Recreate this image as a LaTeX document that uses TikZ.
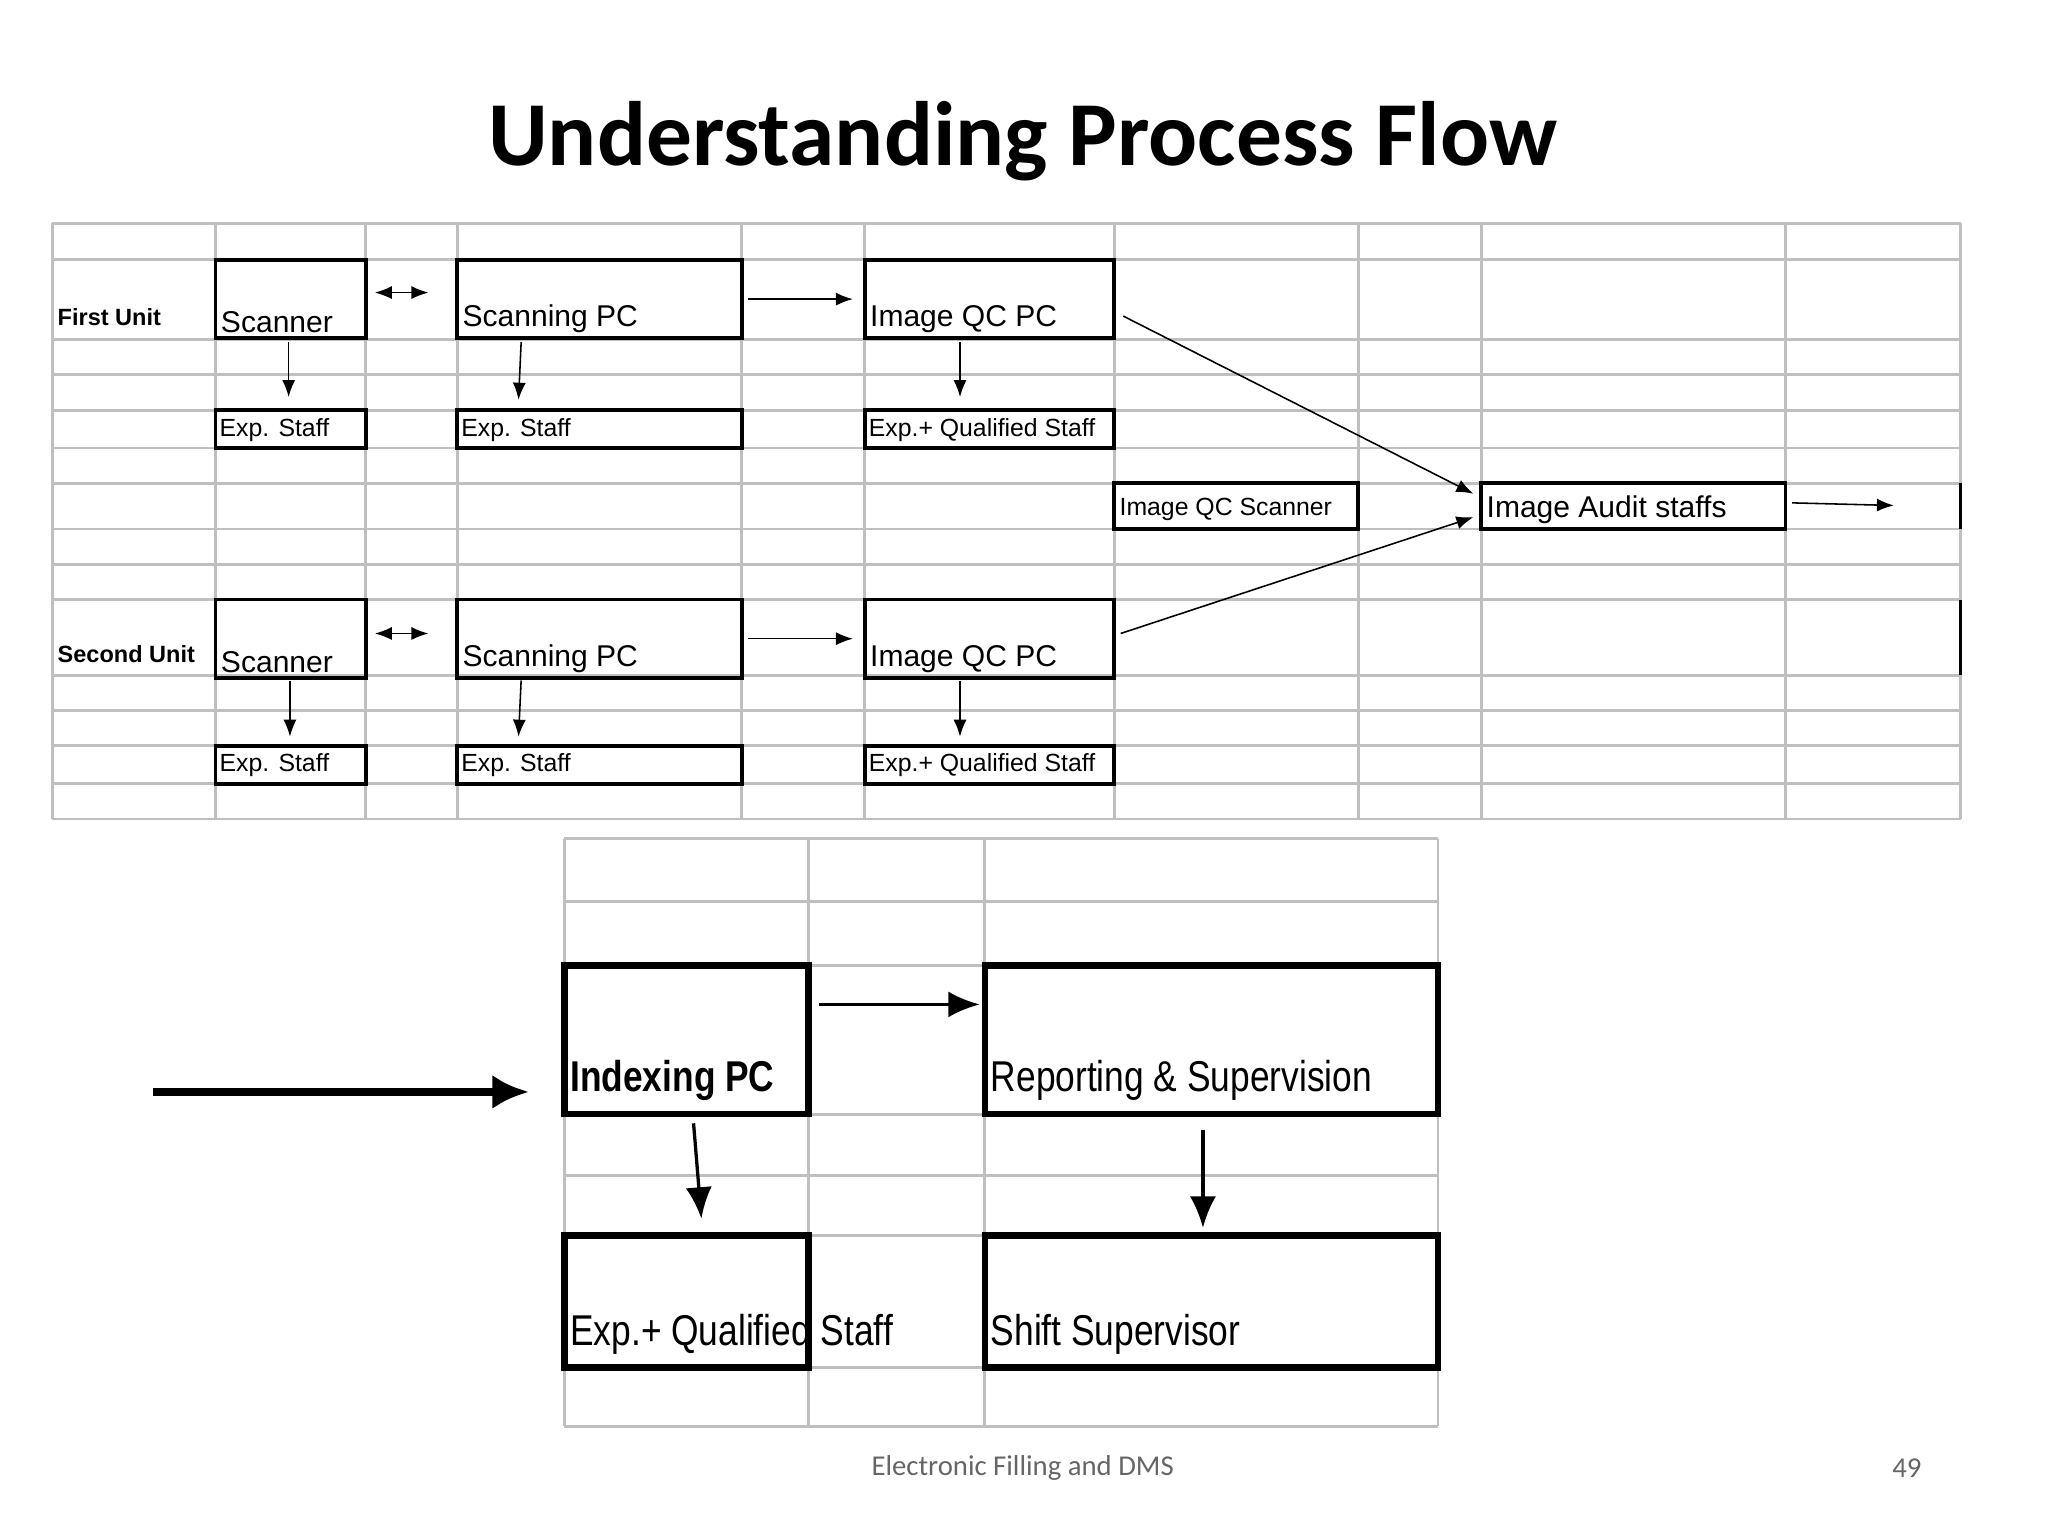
\documentclass[tikz,border=0pt]{standalone}
\usepackage{fontspec}
\usetikzlibrary{arrows.meta}
\setmainfont{Liberation Sans}
\newfontfamily\calib{Carlito}
\begin{document}
\begin{tikzpicture}[x=1pt,y=-1pt,
 grid/.style={draw=black!25,line width=2.2pt},
 box/.style={draw=black,line width=3pt},
 arr/.style={-{Latex[length=13pt,width=10pt]},line width=1.2pt},
 barr/.style={-{Latex[length=24pt,width=20pt]},line width=2.5pt},
 lab/.style={anchor=south west,inner sep=2pt,font=\fontsize{23}{23}\selectfont},
 slab/.style={anchor=south west,inner sep=2pt,font=\fontsize{19}{19}\selectfont},
 blab/.style={anchor=south west,inner sep=3pt,font=\fontsize{33}{33}\selectfont,xscale=0.82}]
\useasboundingbox (0,0) rectangle (1568,1176);
\node[font=\calib\bfseries\fontsize{70}{70}\selectfont] (title) at (783,108) {Understanding Process Flow};
% top grid
\foreach \x in {40,165,280,350,568,662,853,1040,1134,1367,1501} \draw[grid] (\x,171)--(\x,627);
\foreach \y in {171,199,260,287,314,343,370,405,432,459,517,544,571,600,627} \draw[grid] (40,\y)--(1501,\y);
% bottom grid
\foreach \x in {432,619,754,1101} \draw[grid] (\x,642)--(\x,1092);
\foreach \y in {642,690,739,853,900,946,1047,1092} \draw[grid] (432,\y)--(1101,\y);
\node[anchor=west,font=\bfseries\fontsize{18}{18}\selectfont,inner sep=0] (u1) at (44,243) {First Unit};
\node[anchor=west,font=\bfseries\fontsize{18}{18}\selectfont,inner sep=0] (u2) at (44,501) {Second Unit};
\foreach \y/\ey/\n in {199/314/a,459/571/b}{
 \draw[box] (165,\y) rectangle (280,\y+60);
 \draw[box] (350,\y) rectangle (568,\y+60);
 \draw[box] (662,\y) rectangle (853,\y+60);
 \draw[box] (165,\ey) rectangle (280,\ey+29);
 \draw[box] (350,\ey) rectangle (568,\ey+29);
 \draw[box] (662,\ey) rectangle (853,\ey+29);
 \node[lab] (sc\n) at (167,\y+58) {Scanner};
 \node[lab] (sp\n) at (352,\y+58) {Scanning PC};
 \node[lab] (qc\n) at (664,\y+58) {Image QC PC};
 \node[slab] (e1\n) at (166,\ey+26) {Exp. Staff};
 \node[slab] (e2\n) at (351,\ey+26) {Exp. Staff};
 \node[slab] (e3\n) at (663,\ey+26) {Exp.+ Qualified Staff};
}
\draw[box] (853,370) rectangle (1040,405);
\draw[box] (1134,370) rectangle (1367,405);
\draw[box] (1501,370)--(1501,405);
\draw[box] (1501,459)--(1501,517);
\node[slab] (iqs) at (855,401) {Image QC Scanner};
\node[lab] (ias) at (1136,403) {Image Audit  staffs};
% top arrows
\draw[{Latex[length=13pt,width=10pt]}-{Latex[length=13pt,width=10pt]},line width=1.2pt] (287,224)--(328,224);
\draw[{Latex[length=13pt,width=10pt]}-{Latex[length=13pt,width=10pt]},line width=1.2pt] (287,485)--(328,485);
\draw[arr] (573,229)--(653,229);
\draw[arr] (573,489)--(653,489);
\draw[arr] (221,262)--(221,304);
\draw[arr] (399,262)--(397,306);
\draw[arr] (735,262)--(735,304);
\draw[arr] (222,521)--(222,564);
\draw[arr] (399,521)--(397,564);
\draw[arr] (735,521)--(735,564);
\draw[arr] (860,242)--(1128,378);
\draw[arr] (858,485)--(1128,396);
\draw[arr] (1372,385)--(1450,387);
% bottom
\draw[line width=5pt] (432,739) rectangle (619,853);
\draw[line width=5pt] (754,739) rectangle (1101,853);
\draw[line width=5pt] (432,946) rectangle (619,1047);
\draw[line width=5pt] (754,946) rectangle (1101,1047);
\node[blab,font=\bfseries\fontsize{33}{33}\selectfont] (ipc) at (434,846) {Indexing PC};
\node[blab] (rs) at (756,846) {Reporting \& Supervision};
\node[blab] (eqs) at (434,1040) {Exp.+ Qualified Staff};
\node[blab] (ss) at (756,1040) {Shift Supervisor};
\draw[-{Latex[length=28pt,width=26pt]},line width=6pt] (117,836)--(405,836);
\draw[barr] (627,769)--(750,769);
\draw[barr] (531,860)--(537,933);
\draw[barr] (921,865)--(921,940);
\node[font=\calib\fontsize{22}{22}\selectfont,text=black!60] (ft) at (783,1124) {Electronic Filling and DMS};
\node[font=\calib\fontsize{22}{22}\selectfont,text=black!60] (pg) at (1460,1124) {49};
\end{tikzpicture}
\end{document}
